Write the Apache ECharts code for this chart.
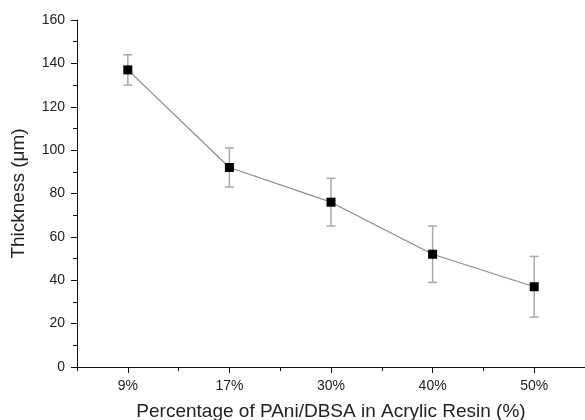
<!DOCTYPE html>
<html>
<head>
<meta charset="utf-8">
<style>
  html, body { margin: 0; padding: 0; background: #fff; }
  #chart { width: 585px; height: 420px; }
</style>
<script src="https://cdn.jsdelivr.net/npm/echarts@6/dist/echarts.min.js"></script>
</head>
<body>
<div id="chart"></div>
<script>
// data
var categories = ['9%', '17%', '30%', '40%', '50%'];
var thickness = [137, 92, 76, 52, 37];
var errors = [7, 9, 11, 13, 14];
var yTicks = [0, 20, 40, 60, 80, 100, 120, 140, 160];

var font = 'Liberation Sans, Arial, sans-serif';

// half-step boundaries for the minor ticks on x
var minorCats = [];
for (var i = 0; i < categories.length * 2; i++) minorCats.push('');

var points = thickness.map(function (v, i) { return [i, v]; });
var bars = thickness.map(function (v, i) { return [i, v - errors[i], v + errors[i]]; });

var myChart = echarts.init(document.getElementById('chart'));

var option = {
    animation: false,
    grid: {
        left: 77,
        right: 0,
        top: 20,
        bottom: 53,
        outerBoundsMode: 'none'
    },
    xAxis: [{
        type: 'category',
        data: categories,
        boundaryGap: true,
        name: 'Percentage of PAni/DBSA in Acrylic Resin (%)',
        nameLocation: 'middle',
        nameGap: 35,
        nameTextStyle: { fontFamily: font, fontSize: 19, color: '#222' },
        axisLine: { lineStyle: { color: '#111', width: 1 } },
        axisTick: { show: true, alignWithLabel: true, length: 6, lineStyle: { color: '#111' } },
        axisLabel: { fontFamily: font, fontSize: 14, color: '#222', margin: 12 },
        splitLine: { show: false }
    }, {
        // minor ticks only
        type: 'category',
        data: minorCats,
        position: 'bottom',
        boundaryGap: true,
        axisLine: { show: false },
        axisTick: { show: true, length: 4, lineStyle: { color: '#111' } },
        axisLabel: { show: false },
        splitLine: { show: false }
    }],
    yAxis: {
        type: 'value',
        min: yTicks[0],
        max: yTicks[yTicks.length - 1],
        interval: 20,
        name: 'Thickness (\u03bcm)',
        nameLocation: 'middle',
        nameGap: 49,
        nameTextStyle: { fontFamily: font, fontSize: 19, color: '#222' },
        axisLine: { show: true, lineStyle: { color: '#111', width: 1 } },
        axisTick: { show: true, length: 6, lineStyle: { color: '#111' } },
        minorTick: { show: true, splitNumber: 2, length: 4, lineStyle: { color: '#111' } },
        axisLabel: { fontFamily: font, fontSize: 14, color: '#222', margin: 12 },
        splitLine: { show: false }
    },
    series: [{
        type: 'custom',
        name: 'error',
        data: bars,
        z: 1,
        renderItem: function (params, api) {
            var x = api.value(0);
            var lo = api.coord([x, api.value(1)]);
            var hi = api.coord([x, api.value(2)]);
            var w = 4.5;
            var style = { stroke: '#a8a8a8', lineWidth: 1.5 };
            return {
                type: 'group',
                children: [
                    { type: 'line', shape: { x1: lo[0], y1: lo[1], x2: hi[0], y2: hi[1] }, style: style },
                    { type: 'line', shape: { x1: hi[0] - w, y1: hi[1], x2: hi[0] + w, y2: hi[1] }, style: style },
                    { type: 'line', shape: { x1: lo[0] - w, y1: lo[1], x2: lo[0] + w, y2: lo[1] }, style: style }
                ]
            };
        }
    }, {
        type: 'line',
        name: 'Thickness',
        data: points,
        z: 3,
        symbol: 'rect',
        symbolSize: 9,
        itemStyle: { color: '#000' },
        lineStyle: { color: '#8a8a8a', width: 1.2 }
    }]
};

myChart.setOption(option);
</script>
</body>
</html>
